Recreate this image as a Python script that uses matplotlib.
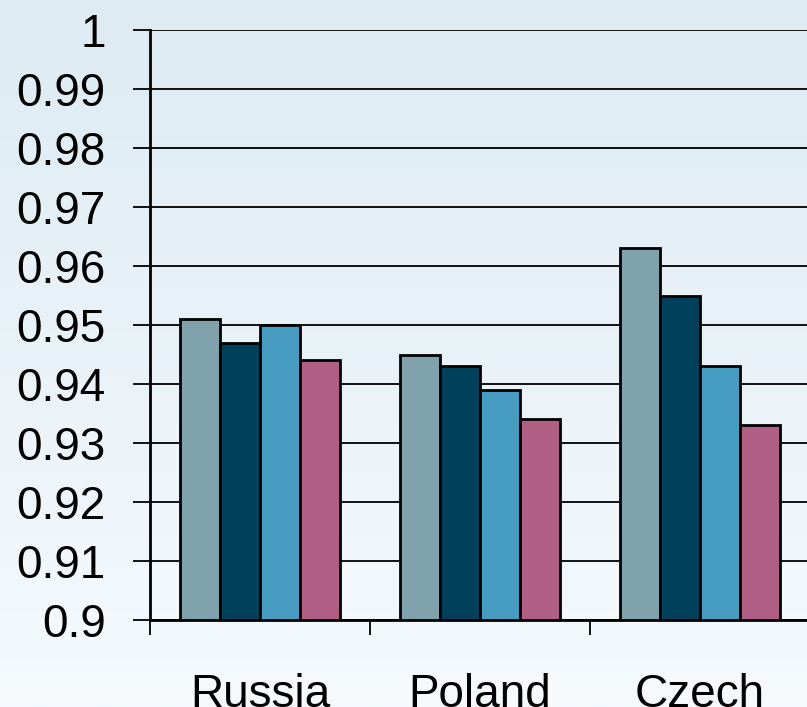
import matplotlib
matplotlib.use("Agg")
import matplotlib.pyplot as plt
import numpy as np

# Daten
countries = ["Russia", "Poland", "Czech"]
series1 = [0.951, 0.945, 0.963]
series2 = [0.947, 0.943, 0.955]
series3 = [0.950, 0.939, 0.943]
series4 = [0.944, 0.934, 0.933]
yTicks = [0.9, 0.91, 0.92, 0.93, 0.94, 0.95, 0.96, 0.97, 0.98, 0.99, 1.0]
yTickLabels = ["0.9", "0.91", "0.92", "0.93", "0.94", "0.95", "0.96", "0.97", "0.98", "0.99", "1"]

colors = ["#7FA2AC", "#00405A", "#479CC1", "#B15E84"]

plt.rcParams['font.family'] = ['Liberation Sans', 'DejaVu Sans']

fig = plt.figure(figsize=(8.07, 7.07), dpi=100)

# Hintergrund mit Farbverlauf
bg = fig.add_axes([0, 0, 1, 1], zorder=0)
top = np.array([221, 235, 243]) / 255.0
bottom = np.array([246, 250, 253]) / 255.0
t = np.linspace(0, 1, 256)[:, None]
grad = top[None, :] * (1 - t) + bottom[None, :] * t
bg.imshow(grad[:, None, :], aspect='auto', extent=[0, 1, 0, 1])
bg.axis('off')

ax = fig.add_axes([150 / 807, 87 / 707, 660 / 807, 590 / 707], zorder=1)
ax.set_facecolor('none')

x = np.arange(len(countries))
w = 40 / 220
for i, (vals, c) in enumerate(zip([series1, series2, series3, series4], colors)):
    ax.bar(x + (i - 1.5) * w, np.array(vals) - 0.9, bottom=0.9, width=w,
           color=c, edgecolor='black', linewidth=2, zorder=3)

ax.set_xlim(-0.5, 2.5)
ax.set_ylim(0.9, 1.0)
ax.set_yticks(yTicks)
ax.set_yticklabels(yTickLabels)
ax.grid(axis='y', color='black', linewidth=1.3, zorder=0)

ax.set_xticks(x)
ax.set_xticklabels(countries)
ax.set_xticks([-0.5, 0.5, 1.5], minor=True)
ax.tick_params(axis='x', which='major', length=0, pad=38, labelsize=33)
ax.tick_params(axis='x', which='minor', length=11, width=1.3, direction='out')
ax.tick_params(axis='y', length=12, width=1.3, pad=20, labelsize=33)

for s in ['top', 'right']:
    ax.spines[s].set_visible(False)
ax.spines['left'].set_linewidth(2)
ax.spines['bottom'].set_linewidth(2)

fig.savefig("out.png", dpi=100)
